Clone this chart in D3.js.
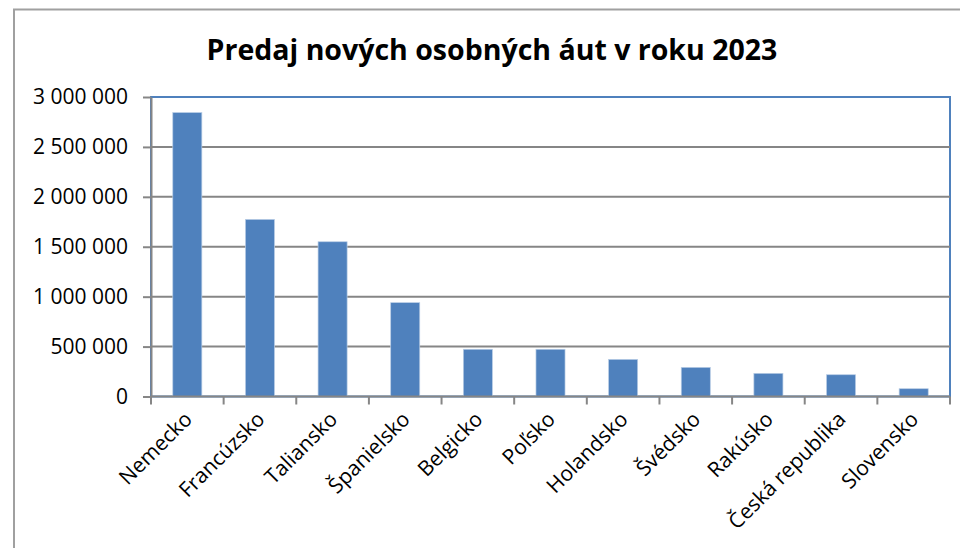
<!DOCTYPE html>
<html>
<head>
<meta charset="utf-8">
<script src="https://cdn.jsdelivr.net/npm/d3@7"></script>
<style>
  body { margin: 0; background: #fff; }
  text { font-family: "Open Sans", "Noto Sans", sans-serif; fill: #000; }
</style>
</head>
<body>
<div id="chart"></div>
<script>
var countries = ["Nemecko", "Francúzsko", "Taliansko", "Španielsko", "Belgicko", "Poľsko",
                 "Holandsko", "Švédsko", "Rakúsko", "Česká republika", "Slovensko"];
var sales = [2844000, 1774000, 1550000, 940000, 473000, 473000, 372000, 292000, 232000, 218000, 78000];
var yTicks = [0, 500000, 1000000, 1500000, 2000000, 2500000, 3000000];
var title = "Predaj nových osobných áut v roku 2023";

var margin = {top: 97, right: 10, bottom: 151.5, left: 151},
    width = 960 - margin.left - margin.right,
    height = 548 - margin.top - margin.bottom;

var svg = d3.select("#chart").append("svg")
    .attr("width", 960)
    .attr("height", 548);

// outer chart frame (runs off the right and bottom)
svg.append("rect")
    .attr("x", 14).attr("y", 9.5)
    .attr("width", 980).attr("height", 580)
    .attr("fill", "#fff")
    .attr("stroke", "#a0a0a0")
    .attr("stroke-width", 2);

svg.append("text")
    .attr("x", 492).attr("y", 60)
    .attr("text-anchor", "middle")
    .attr("font-size", "28.5px")
    .attr("font-weight", "bold")
    .text(title);

var g = svg.append("g")
    .attr("transform", "translate(" + margin.left + "," + margin.top + ")");

var x = d3.scaleBand()
    .domain(countries)
    .range([0, width])
    .paddingInner(0.6)
    .paddingOuter(0.3);

var y = d3.scaleLinear()
    .domain([0, 3000000])
    .range([height, 0]);

var fmt = d3.formatLocale({decimal: ",", thousands: " ", grouping: [3], currency: ["", ""]}).format(",.0f");

// plot area border
g.append("rect")
    .attr("width", width).attr("height", height)
    .attr("fill", "none")
    .attr("stroke", "#4f81bd")
    .attr("stroke-width", 2);

// gridlines
g.selectAll(".grid")
    .data(yTicks.slice(1, -1))
    .enter().append("line")
    .attr("x1", 0).attr("x2", width)
    .attr("y1", function(d){ return y(d); })
    .attr("y2", function(d){ return y(d); })
    .attr("stroke", "#868686")
    .attr("stroke-width", 2);

g.selectAll(".bar")
    .data(sales)
    .enter().append("rect")
    .attr("x", function(d, i){ return x(countries[i]); })
    .attr("y", function(d){ return y(d); })
    .attr("width", x.bandwidth())
    .attr("height", function(d){ return height - y(d); })
    .attr("fill", "#4f81bd")
    .attr("stroke", "#b9cde5")
    .attr("stroke-width", 0.7);

// y axis
var yAxis = g.append("g")
    .call(d3.axisLeft(y).tickValues(yTicks).tickFormat(fmt).tickSize(8).tickSizeOuter(0));
yAxis.select(".domain").attr("stroke", "#868686").attr("stroke-width", 2);
yAxis.selectAll(".tick line").attr("stroke", "#868686").attr("stroke-width", 2);
yAxis.selectAll(".tick text")
    .attr("x", -23)
    .attr("font-size", "21px")
    .attr("font-family", "'Open Sans', sans-serif");

// x axis: ticks between categories
var xAxis = g.append("g")
    .attr("transform", "translate(0," + height + ")");
xAxis.append("line")
    .attr("x1", 0).attr("x2", width)
    .attr("stroke", "#868686").attr("stroke-width", 2);
xAxis.selectAll(".xt")
    .data(d3.range(countries.length + 1))
    .enter().append("line")
    .attr("x1", function(i){ return i * x.step(); })
    .attr("x2", function(i){ return i * x.step(); })
    .attr("y1", 0).attr("y2", 8)
    .attr("stroke", "#868686").attr("stroke-width", 2);

xAxis.selectAll(".lbl")
    .data(countries)
    .enter().append("text")
    .attr("text-anchor", "end")
    .attr("font-size", "21px")
    .attr("transform", function(d){
        var cx = x(d) + x.bandwidth() / 2 + 6;
        return "translate(" + cx + ",24) rotate(-45)";
    })
    .text(function(d){ return d; });
</script>
</body>
</html>
